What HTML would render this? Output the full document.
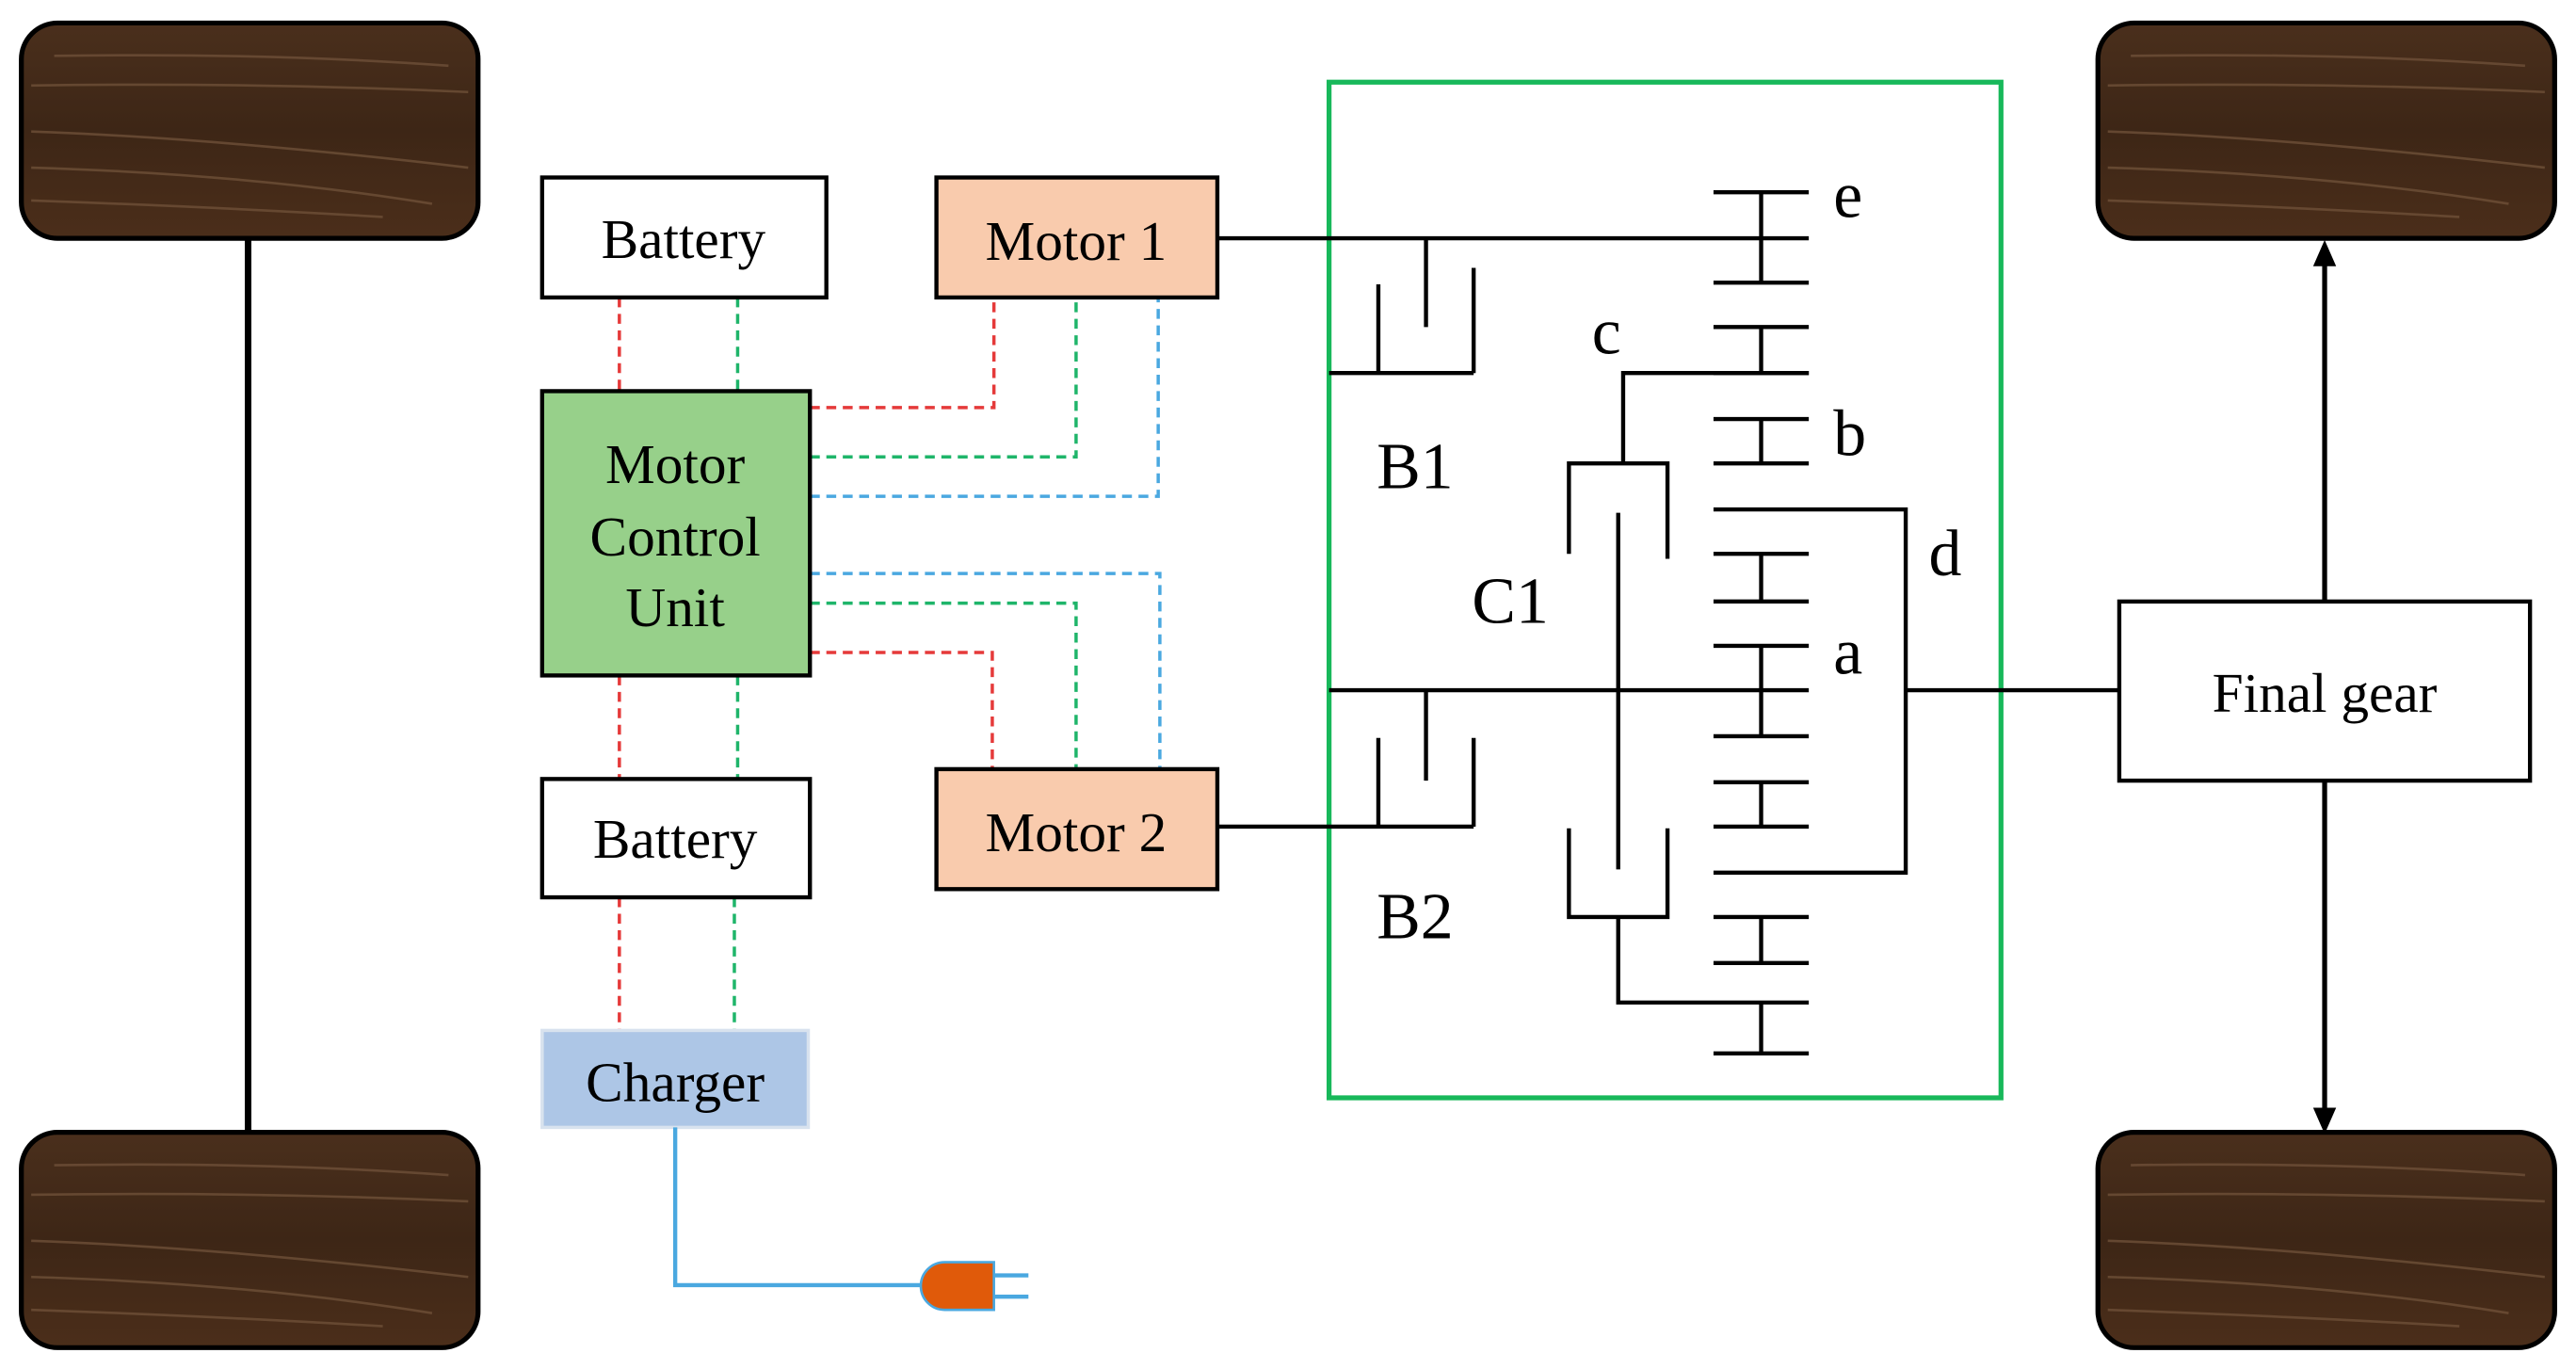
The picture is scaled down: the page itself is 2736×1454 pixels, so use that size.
<!DOCTYPE html>
<html><head><meta charset="utf-8"><style>html,body{margin:0;padding:0;background:#fff}svg{display:block}</style></head>
<body>
<svg width="2736" height="1454" viewBox="0 0 1568 833" preserveAspectRatio="none" xmlns="http://www.w3.org/2000/svg" font-family="'Liberation Serif', serif">
<defs>
<linearGradient id="wood" x1="0" y1="0" x2="0" y2="1">
<stop offset="0" stop-color="#4a2f1c"/><stop offset="0.5" stop-color="#3d2616"/><stop offset="1" stop-color="#4b2e1a"/>
</linearGradient>
<g id="wheel">
<rect x="0" y="0" width="278" height="131" rx="22" fill="url(#wood)" stroke="#000" stroke-width="3"/>
<g stroke="#6e5038" stroke-width="1.5" fill="none" opacity="0.8">
<path d="M6 66 Q120 70 272 88"/><path d="M6 88 Q140 92 250 110"/><path d="M6 38 Q140 36 272 42"/><path d="M20 20 Q150 18 260 26"/><path d="M6 108 Q120 112 220 118"/>
</g>
</g>
</defs>
<use href="#wheel" x="13" y="14"/>
<use href="#wheel" x="13" y="689"/>
<use href="#wheel" x="1277" y="14"/>
<use href="#wheel" x="1277" y="689"/>
<line x1="151" y1="145" x2="151" y2="689" stroke="#000" stroke-width="4"/>

<g fill="none" stroke-width="2" stroke-dasharray="6,4">
<path d="M377 181V238M377 411V474M377 546V627M493 248H605V181M493 397H604V468" stroke="#e53a3a"/>
<path d="M449 181V238M449 411V474M447 546V627M493 278H655V181M493 367H655V468" stroke="#1fb56a"/>
<path d="M493 302H705V181M493 349H706V468" stroke="#4aa8e0"/>
</g>

<g stroke="#000" stroke-width="2.5">
<rect x="330" y="108" width="173" height="73" fill="#fff"/>
<rect x="570" y="108" width="171" height="73" fill="#f9cbad"/>
<rect x="330" y="238" width="163" height="173" fill="#97d08a"/>
<rect x="330" y="474" width="163" height="72" fill="#fff"/>
<rect x="570" y="468" width="171" height="73" fill="#f9cbad"/>
<rect x="1290" y="366" width="250" height="109" fill="#fff"/>
</g>
<rect x="330" y="627" width="162" height="59" fill="#adc6e6" stroke="#d8e2ee" stroke-width="2"/>
<g font-size="34" text-anchor="middle" fill="#000">
<text x="416" y="157">Battery</text>
<text x="655" y="158">Motor 1</text>
<text x="411" y="294">Motor</text>
<text x="411" y="338">Control</text>
<text x="411" y="381">Unit</text>
<text x="411" y="522">Battery</text>
<text x="655" y="518">Motor 2</text>
<text x="411" y="670">Charger</text>
<text x="1415" y="433">Final gear</text>
</g>

<path d="M411 686V782H560" fill="none" stroke="#4aa8e0" stroke-width="2.5"/>
<path d="M575 768H605V797H575A14.5 14.5 0 0 1 575 768Z" fill="#e05a0a" stroke="#4aa8e0" stroke-width="1.5"/>
<path d="M605 776H626M605 789H626" stroke="#4aa8e0" stroke-width="2.5"/>

<g stroke="#000" stroke-width="3">
<line x1="1415" y1="366" x2="1415" y2="158"/>
<line x1="1415" y1="475" x2="1415" y2="678"/>
</g>
<path d="M1415 146L1408 162H1422Z M1415 690L1408 674H1422Z" fill="#000"/>

<rect x="809" y="50" width="409" height="618" fill="none" stroke="#18b85a" stroke-width="3"/>

<g stroke="#000" stroke-width="2.5" fill="none">
<path d="M741 145H1101M741 503H897M809 420H1101M1160 420H1290"/>
<path d="M868 145V199M809 227H897M839 173V227M897 163V227"/>
<path d="M868 420V475M839 449V503M897 449V503"/>
<path d="M1101 227H988V282M955 337V282H1015V340M985 312V529"/>
<path d="M955 504V558H1015V504M985 558V610H1101"/>
<path d="M1043 310H1160V531H1043"/>
<path d="M1043 117H1101M1043 172H1101M1072 117V172"/>
<path d="M1043 199H1101M1072 199V227M1043 227H1101"/>
<path d="M1043 255H1101M1043 282H1101M1072 255V282"/>
<path d="M1043 337H1101M1043 366H1101M1072 337V366"/>
<path d="M1043 393H1101M1043 448H1101M1072 393V448"/>
<path d="M1043 476H1101M1043 503H1101M1072 476V503"/>
<path d="M1043 558H1101M1043 586H1101M1072 558V586"/>
<path d="M1043 641H1101M1072 610V641"/>
</g>
<g font-size="40" fill="#000">
<text x="1116" y="132">e</text>
<text x="969" y="215">c</text>
<text x="1116" y="277">b</text>
<text x="1174" y="350">d</text>
<text x="1116" y="410">a</text>
<text x="838" y="297">B1</text>
<text x="896" y="379">C1</text>
<text x="838" y="571">B2</text>
</g>
</svg>
</body></html>
